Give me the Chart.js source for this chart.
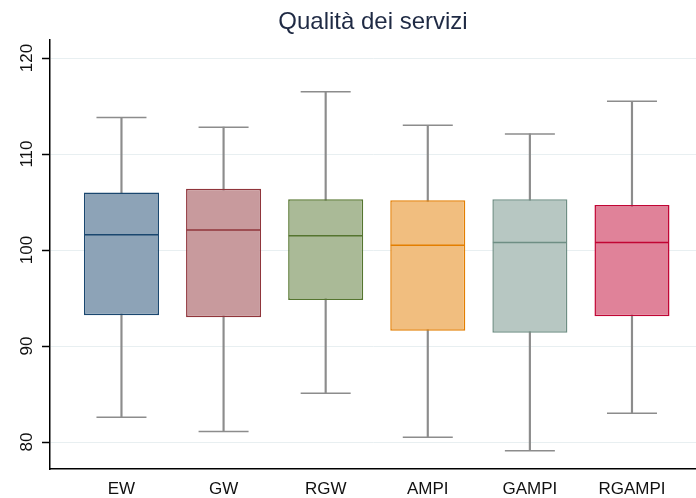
<!DOCTYPE html>
<html>
<head>
<meta charset="utf-8">
<script src="https://cdn.jsdelivr.net/npm/chart.js@4/dist/chart.umd.min.js"></script>
<style>
    html, body { margin: 0; padding: 0; background: #fff; overflow: hidden; }
    canvas { display: block; }
</style>
</head>
<body>
<canvas id="chart" width="696" height="498"></canvas>
<script>
// values
const categories = ['EW', 'GW', 'RGW', 'AMPI', 'GAMPI', 'RGAMPI'];
const whiskerLow = [82.6, 81.1, 85.1, 80.5, 79.1, 83.0];
const q1 = [93.2, 93.0, 94.8, 91.6, 91.4, 93.1];
const median = [101.6, 102.1, 101.5, 100.5, 100.8, 100.8];
const q3 = [106.0, 106.4, 105.3, 105.2, 105.3, 104.7];
const whiskerHigh = [113.8, 112.8, 116.5, 113.0, 112.1, 115.5];
const yTicks = [80, 90, 100, 110, 120];

const edgeColors = ['#1a476f', '#90353b', '#55752f', '#e37e00', '#6e8e84', '#c10534'];
const fillColors = ['#8da3b7', '#c89a9d', '#aaba97', '#f1be7f', '#b7c7c2', '#e08299'];
const whiskerColor = '#8c8c8c';

Chart.defaults.font.family = '"Liberation Sans", Arial, sans-serif';
Chart.defaults.animation = false;

const xs = categories.map((c, i) => i);

// no extra room for edge labels, the plot area is fixed by afterFit
function noPadding(scale) {
    scale.paddingLeft = 0;
    scale.paddingRight = 0;
    scale.paddingTop = 0;
    scale.paddingBottom = 0;
}

new Chart(document.getElementById('chart'), {
    type: 'bar',
    data: {
        datasets: [
            {
                label: 'whisker',
                data: xs.map(i => ({ x: i, y: [whiskerLow[i], whiskerHigh[i]] })),
                backgroundColor: whiskerColor,
                barThickness: 1.5,
                grouped: false,
                order: 3
            },
            {
                label: 'box',
                data: xs.map(i => ({ x: i, y: [q1[i], q3[i]] })),
                backgroundColor: fillColors,
                borderColor: edgeColors,
                borderWidth: 1.5,
                borderSkipped: false,
                categoryPercentage: 1,
                barPercentage: 0.735,
                grouped: false,
                order: 2
            },
            {
                type: 'line',
                label: 'caps',
                data: xs.map(i => ({ x: i, y: whiskerHigh[i] }))
                    .concat(xs.map(i => ({ x: i, y: whiskerLow[i] }))),
                showLine: false,
                pointStyle: 'line',
                pointRadius: 25,
                pointHoverRadius: 25,
                pointBorderWidth: 1.5,
                pointBorderColor: whiskerColor,
                order: 1
            },
            {
                type: 'line',
                label: 'median',
                data: xs.map(i => ({ x: i, y: median[i] })),
                showLine: false,
                pointStyle: 'line',
                pointRadius: 37,
                pointHoverRadius: 37,
                pointBorderWidth: 1.5,
                pointBorderColor: edgeColors,
                order: 0
            }
        ]
    },
    options: {
        responsive: false,
        devicePixelRatio: 1,
        layout: { padding: 0, autoPadding: false },
        plugins: {
            legend: { display: false },
            tooltip: { enabled: false },
            title: {
                display: true,
                fullSize: false,
                text: 'Qualità dei servizi',
                color: '#1f2a44',
                font: { size: 24, weight: 'normal', lineHeight: 1.2 },
                padding: { top: 8, bottom: 3 }
            }
        },
        scales: {
            x: {
                type: 'linear',
                min: -0.7,
                max: 5.627,
                offset: false,
                afterBuildTicks: (scale) => { scale.ticks = xs.map(v => ({ value: v })); },
                afterFit: (scale) => { scale.height = 29; noPadding(scale); },
                grid: { display: false, drawTicks: false },
                border: { color: '#000', width: 1.5 },
                ticks: {
                    autoSkip: false,
                    maxRotation: 0,
                    padding: 10,
                    color: '#111',
                    font: { size: 17 },
                    callback: (v) => categories[v]
                }
            },
            y: {
                min: 77.2,
                max: 121.9,
                afterBuildTicks: (scale) => { scale.ticks = yTicks.map(v => ({ value: v })); },
                afterFit: (scale) => { scale.width = 50; noPadding(scale); },
                grid: {
                    color: '#e8eff1',
                    lineWidth: 1,
                    tickColor: '#000',
                    tickLength: 8,
                    tickWidth: 1.5
                },
                border: { color: '#000', width: 1.5 },
                ticks: {
                    minRotation: 90,
                    maxRotation: 90,
                    crossAlign: 'center',
                    padding: 1,
                    color: '#111',
                    font: { size: 17 }
                }
            }
        }
    }
});
</script>
</body>
</html>
